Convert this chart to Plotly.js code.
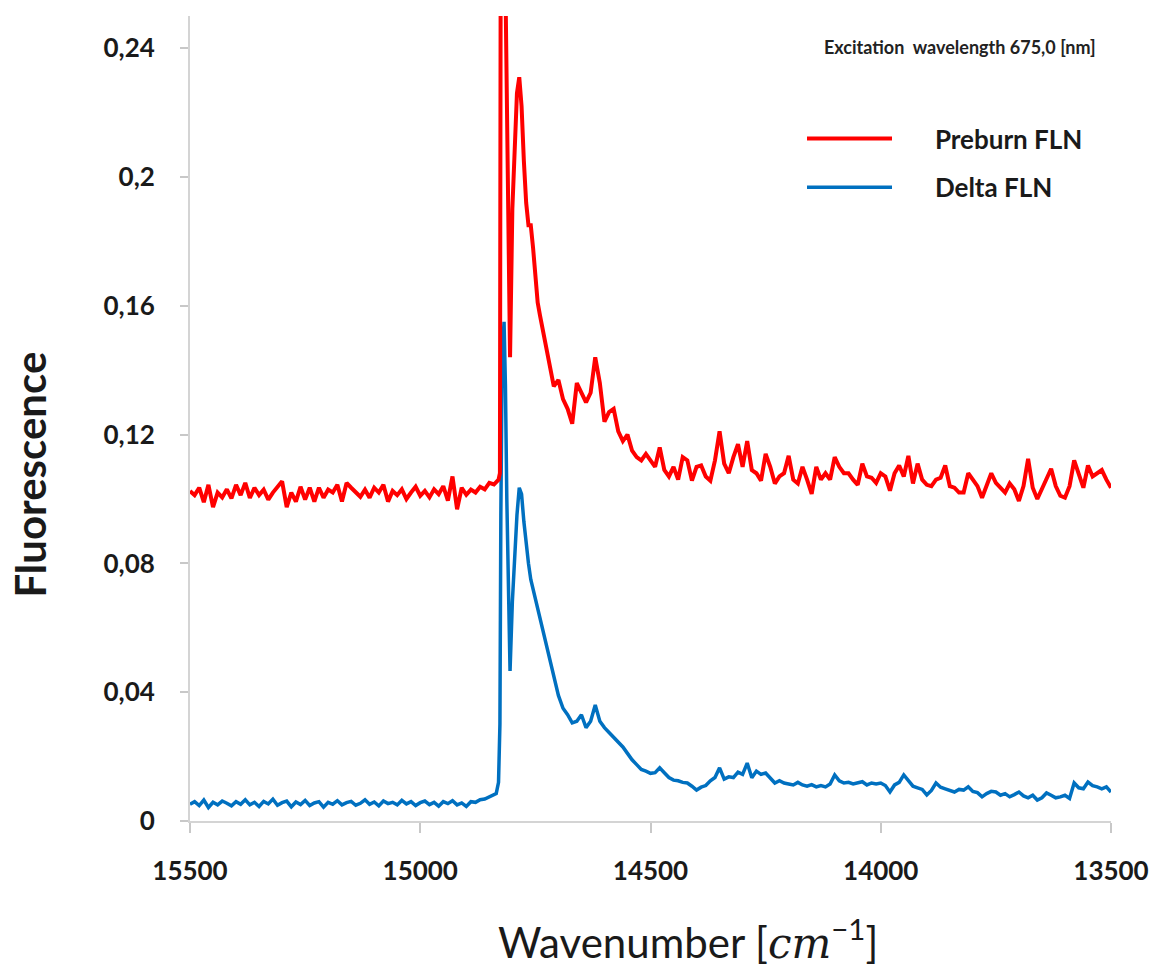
<!DOCTYPE html>
<html>
<head>
<meta charset="utf-8">
<script src="https://cdn.plot.ly/plotly-3.0.1.min.js"></script>
<style>html,body{margin:0;padding:0;background:#fff;}</style>
</head>
<body>
<div id="chart" style="width:1157px;height:972px;"></div>
<script>
// Wavenumber grid (cm^-1)
const wavenumber = [
15500,15490,15480,15470,15460,15450,15440,15430,15420,15410,
15400,15390,15380,15370,15360,15350,15340,15330,15320,15310,
15300,15290,15280,15270,15260,15250,15240,15230,15220,15210,
15200,15190,15180,15170,15160,15150,15140,15130,15120,15110,
15100,15090,15080,15070,15060,15050,15040,15030,15020,15010,
15000,14990,14980,14970,14960,14950,14940,14930,14920,14910,
14900,14890,14880,14870,14860,14850,14840,
14835,14830,14827,14825,14822,14818,14815,14812,14808,14805,
14800,14795,14790,14785,14780,14775,14770,14765,14760,14755,14750,14745,14740,
14730,14720,14710,14700,14690,14680,14670,14660,14650,14640,
14630,14620,14610,14600,14590,14580,14570,14560,14550,14540,
14530,14520,14510,14500,14490,14480,14470,14460,14450,14440,
14430,14420,14410,14400,14390,14380,14370,14360,14350,14340,
14330,14320,14310,14300,14290,14280,14270,14260,14250,14240,
14230,14220,14210,14200,14190,14180,14170,14160,14150,14140,
14130,14120,14110,14100,14090,14080,14070,14060,14050,14040,
14030,14020,14010,14000,13990,13980,13970,13960,13950,13940,
13930,13920,13910,13900,13890,13880,13870,13860,13850,13840,
13830,13820,13810,13800,13790,13780,13770,13760,13750,13740,
13730,13720,13710,13700,13690,13680,13670,13660,13650,13640,
13630,13620,13610,13600,13590,13580,13570,13560,13550,13540,
13530,13520,13510,13500
];

// Preburn FLN (red)
const preburnFLN = [
0.1025,0.1012,0.1035,0.0990,0.1044,0.0975,0.1020,0.1005,0.1030,0.1002,
0.1044,0.1012,0.1050,0.1003,0.1035,0.1012,0.1029,0.0998,0.1020,0.1040,
0.1055,0.0975,0.1020,0.0992,0.1038,0.0998,0.1035,0.0992,0.1035,0.1004,
0.1029,0.1020,0.1044,0.0992,0.1050,0.1035,0.1022,0.1007,0.1029,0.1004,
0.1035,0.1020,0.1044,0.0992,0.1025,0.1012,0.1030,0.1000,0.1020,0.1038,
0.1010,0.1025,0.1005,0.1030,0.1015,0.1040,0.0995,0.1070,0.0968,0.1035,
0.1013,0.1029,0.1020,0.1038,0.1030,0.1050,0.1045,
0.1055,0.1060,0.1080,0.3000,0.3000,0.3000,0.2600,0.2200,0.1600,0.1440,
0.1900,0.2120,0.2260,0.2310,0.2220,0.2050,0.1920,0.1850,0.1850,0.1780,0.1700,0.1610,0.1570,
0.150,0.143,0.135,0.137,0.131,0.128,0.1234,0.136,0.133,0.130,
0.133,0.144,0.136,0.124,0.127,0.128,0.121,0.118,0.120,0.115,
0.113,0.112,0.114,0.112,0.110,0.116,0.109,0.107,0.110,0.106,
0.113,0.112,0.1057,0.110,0.1104,0.107,0.1057,0.112,0.121,0.111,
0.108,0.113,0.117,0.110,0.118,0.109,0.108,0.1057,0.114,0.110,
0.1048,0.107,0.108,0.1134,0.106,0.1048,0.110,0.106,0.1016,0.110,
0.106,0.108,0.106,0.113,0.110,0.108,0.108,0.106,0.1044,0.111,
0.107,0.1066,0.105,0.108,0.107,0.1026,0.108,0.1104,0.107,0.1134,
0.1048,0.111,0.106,0.1044,0.104,0.106,0.1066,0.1104,0.104,0.1035,
0.102,0.102,0.108,0.106,0.104,0.1004,0.104,0.108,0.105,0.1035,
0.102,0.1048,0.103,0.0994,0.104,0.1125,0.1035,0.100,0.103,0.1066,
0.1094,0.104,0.101,0.1004,0.104,0.112,0.108,0.1035,0.1104,0.107,
0.108,0.109,0.106,0.1035
];

// Delta FLN (blue)
const deltaFLN = [
0.0052,0.0060,0.0048,0.0065,0.0042,0.0058,0.0050,0.0062,0.0055,0.0047,
0.0060,0.0052,0.0066,0.0050,0.0058,0.0045,0.0061,0.0053,0.0068,0.0049,
0.0057,0.0062,0.0044,0.0059,0.0051,0.0064,0.0048,0.0056,0.0060,0.0043,
0.0058,0.0052,0.0063,0.0050,0.0057,0.0061,0.0049,0.0055,0.0066,0.0052,
0.0059,0.0047,0.0062,0.0054,0.0058,0.0050,0.0064,0.0053,0.0060,0.0048,
0.0057,0.0062,0.0051,0.0058,0.0046,0.0060,0.0054,0.0063,0.0050,0.0056,
0.0045,0.0060,0.0058,0.0066,0.0068,0.0075,0.0082,
0.0085,0.0120,0.0300,0.0950,0.1450,0.1550,0.1350,0.1000,0.0650,0.0466,
0.0680,0.0820,0.0950,0.1035,0.1015,0.0930,0.0860,0.0800,0.0750,0.0720,0.0680,0.0650,0.0620,
0.056,0.050,0.045,0.039,0.035,0.033,0.0305,0.031,0.033,0.029,
0.031,0.036,0.031,0.029,0.0275,0.026,0.0245,0.023,0.021,0.019,
0.0175,0.016,0.0155,0.0148,0.015,0.0165,0.015,0.0135,0.0127,0.0125,
0.012,0.0118,0.0108,0.0096,0.0105,0.011,0.0125,0.0135,0.0165,0.013,
0.0137,0.0135,0.0152,0.0145,0.018,0.0134,0.0155,0.0145,0.0149,0.0135,
0.0118,0.0125,0.0118,0.0115,0.0112,0.012,0.0112,0.0108,0.0113,0.0106,
0.011,0.0106,0.0115,0.0143,0.0125,0.0118,0.012,0.0115,0.0118,0.0122,
0.0112,0.0118,0.0115,0.0118,0.011,0.009,0.0112,0.012,0.0143,0.0125,
0.0108,0.0103,0.0098,0.0081,0.0095,0.0118,0.0105,0.010,0.0096,0.009,
0.0098,0.0096,0.0106,0.0092,0.0088,0.0075,0.0085,0.0092,0.009,0.008,
0.0085,0.0075,0.0082,0.009,0.0078,0.0072,0.008,0.0065,0.0072,0.0087,
0.008,0.0072,0.0075,0.008,0.007,0.0118,0.0103,0.010,0.0121,0.011,
0.0106,0.010,0.0106,0.009
];

const xTickVals = [15500, 15000, 14500, 14000, 13500];
const xTickText = ["15500", "15000", "14500", "14000", "13500"];
const yTickVals = [0, 0.04, 0.08, 0.12, 0.16, 0.2, 0.24];
const yTickText = ["0", "0,04", "0,08", "0,12", "0,16", "0,2", "0,24"];

const seriesNames = ["Preburn FLN", "Delta FLN"];
const noteText = "Excitation  wavelength 675,0 [nm]";
const xTitle = "Wavenumber [<span style=\"font-family:'DejaVu Serif';font-style:italic\">cm</span><sup>−1</sup>]";
const yTitle = "Fluorescence";

const FONT = "Lato, 'Open Sans', sans-serif";
const PAD = "\u00a0\u00a0\u00a0\u00a0\u00a0\u00a0";

const traces = [
  {
    x: wavenumber, y: deltaFLN, name: PAD + seriesNames[1], type: "scatter", mode: "lines",
    line: {color: "#0070C0", width: 3.5}, legendgroup: "b", legendrank: 2
  },
  {
    x: wavenumber, y: preburnFLN, name: PAD + seriesNames[0], type: "scatter", mode: "lines",
    line: {color: "#FF0000", width: 4}, legendgroup: "a", legendrank: 1
  }
];

const axisCommon = {
  showgrid: false, zeroline: false, showline: true,
  linecolor: "#d4d4d4", linewidth: 2,
  ticks: "outside", tickcolor: "#c8c8c8", tickwidth: 2,
  tickfont: {family: FONT, size: 26, color: "#1a1a1a", weight: "bold"},
  tickmode: "array"
};

const layout = {
  width: 1157, height: 972,
  paper_bgcolor: "#ffffff", plot_bgcolor: "#ffffff",
  margin: {l: 190, r: 46, t: 16, b: 151, pad: 0},
  showlegend: true,
  legend: {
    x: 0.6645, y: 0.877, xanchor: "left", yanchor: "top",
    bgcolor: "rgba(0,0,0,0)", borderwidth: 0,
    font: {family: FONT, size: 26, color: "#1a1a1a", weight: "bold"},
    itemwidth: 85, tracegroupgap: 12, traceorder: "grouped"
  },
  xaxis: Object.assign({}, axisCommon, {
    range: [15500, 13500], autorange: false,
    tickvals: xTickVals, ticktext: xTickText, ticklen: 10,
    ticklabelstandoff: 16
  }),
  yaxis: Object.assign({}, axisCommon, {
    range: [0, 0.25], autorange: false,
    tickvals: yTickVals, ticktext: yTickText, ticklen: 8,
    ticklabelstandoff: 20
  }),
  annotations: [
    {
      text: noteText, xref: "paper", yref: "paper", x: 0.986, y: 0.962,
      xanchor: "right", yanchor: "middle", showarrow: false,
      font: {family: FONT, size: 18, color: "#222222", weight: "bold"}
    },
    {
      text: xTitle, xref: "paper", yref: "paper", x: 0.541, y: -0.147,
      xanchor: "center", yanchor: "middle", showarrow: false,
      font: {family: FONT, size: 42, color: "#1a1a1a"}
    },
    {
      text: yTitle, xref: "paper", yref: "paper", x: -0.174, y: 0.43,
      xanchor: "center", yanchor: "middle", showarrow: false, textangle: -90,
      font: {family: FONT, size: 42, color: "#1a1a1a", weight: "bold"}
    }
  ]
};

Plotly.newPlot("chart", traces, layout, {displayModeBar: false, staticPlot: true});
</script>
</body>
</html>
